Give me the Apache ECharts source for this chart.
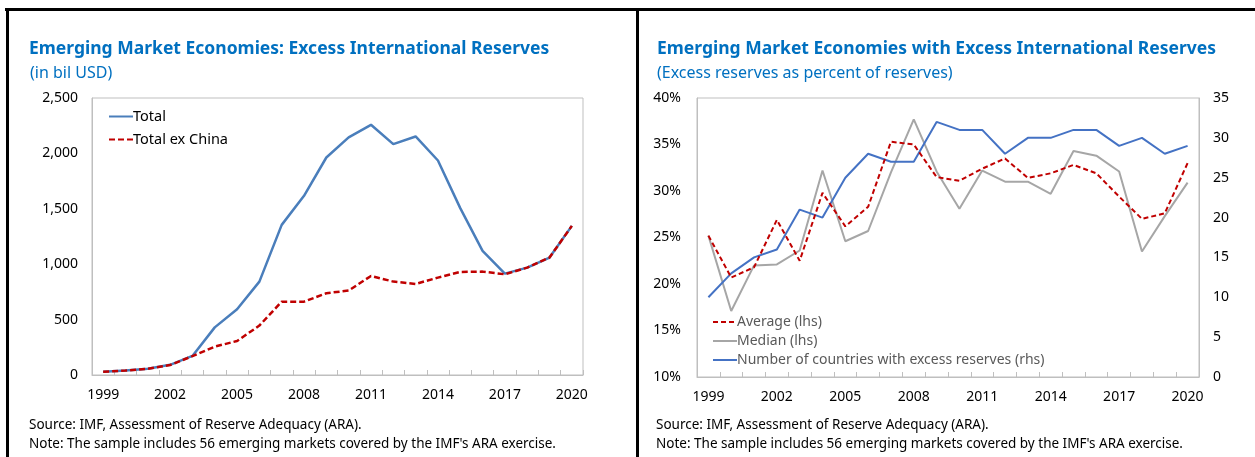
<!DOCTYPE html>
<html>
<head>
<meta charset="utf-8">
<title>Emerging Market Economies: Excess International Reserves</title>
<script src="https://cdn.jsdelivr.net/npm/echarts@6/dist/echarts.min.js"></script>
<style>
  html, body { margin: 0; padding: 0; background: #fff; }
  #chart { width: 1255px; height: 457px; }
</style>
</head>
<body>
<div id="chart"></div>
<script>
// data
const years = ["1999","2000","2001","2002","2003","2004","2005","2006","2007","2008","2009",
  "2010","2011","2012","2013","2014","2015","2016","2017","2018","2019","2020"];

// left panel, bil USD
const total = [30, 40, 57, 92, 172, 430, 593, 843, 1355, 1617, 1963,
  2144, 2258, 2084, 2153, 1936, 1506, 1120, 915, 969, 1060, 1346];
const totalExChina = [30, 40, 57, 90, 170, 256, 307, 446, 662, 662, 738,
  762, 894, 843, 822, 879, 930, 933, 909, 969, 1060, 1346];

// right panel, percent of reserves (lhs) and count (rhs)
const average = [25.2, 20.7, 21.8, 26.9, 22.5, 29.8, 26.2, 28.3, 35.3, 35.0, 31.5,
  31.1, 32.4, 33.5, 31.4, 31.9, 32.8, 31.9, 29.4, 27.0, 27.6, 33.0];
const median = [25.2, 17.1, 22.0, 22.1, 23.6, 32.2, 24.6, 25.7, 32.0, 37.7, 32.1,
  28.1, 32.2, 31.0, 31.0, 29.7, 34.3, 33.8, 32.1, 23.5, 27.3, 30.9];
const countries = [10, 13, 15, 16, 21, 20, 25, 28, 27, 27, 32,
  31, 31, 28, 30, 30, 31, 31, 29, 30, 28, 29];

const FONT = "Noto Sans";
const TITLE_BLUE = "#0070c0";
const FRAME = "#bfbfbf";

const chart = echarts.init(document.getElementById("chart"), null, { renderer: "canvas" });

const xAxisBase = (gridIndex) => ({
  type: "category",
  gridIndex: gridIndex,
  data: years,
  boundaryGap: true,
  axisLine: { lineStyle: { color: FRAME, width: 1 } },
  axisTick: { show: true, inside: true, interval: 0, length: 5, lineStyle: { color: FRAME } },
  axisLabel: { interval: 2, color: "#000", fontFamily: FONT, fontSize: 14, margin: 13 },
  splitLine: { show: false },
});

const yLabel = { color: "#000", fontFamily: FONT, fontSize: 14 };
const titleStyle = { color: TITLE_BLUE, fontFamily: FONT, fontSize: 17.5, fontWeight: "bold" };
const subStyle = { color: TITLE_BLUE, fontFamily: FONT, fontSize: 16, fontWeight: "normal" };
const noteStyle = { color: "#000", fontFamily: FONT, fontSize: 13.5, fontWeight: "normal" };

// legend icon is just the series line, no marker
const legendIconStyle = { color: "transparent", borderWidth: 0, opacity: 0 };

const option = {
  animation: false,
  backgroundColor: "#fff",
  textStyle: { fontFamily: FONT },
  title: [
    { text: "Emerging Market Economies: Excess International Reserves", left: 24, top: 35, textStyle: titleStyle },
    { text: "(in bil USD)", left: 25, top: 60, textStyle: subStyle },
    { text: "Emerging Market Economies with Excess International Reserves", left: 652, top: 35, textStyle: titleStyle },
    { text: "(Excess reserves as percent of reserves)", left: 652, top: 60, textStyle: subStyle },
    { text: "Source: IMF, Assessment of Reserve Adequacy (ARA).", left: 24, top: 413, textStyle: noteStyle },
    { text: "Note: The sample includes 56 emerging markets covered by the IMF's ARA exercise.", left: 24, top: 432, textStyle: noteStyle },
    { text: "Source: IMF, Assessment of Reserve Adequacy (ARA).", left: 651, top: 413, textStyle: noteStyle },
    { text: "Note: The sample includes 56 emerging markets covered by the IMF's ARA exercise.", left: 651, top: 432, textStyle: noteStyle },
  ],
  legend: [
    {
      orient: "vertical", left: 103, top: 104, itemWidth: 24, itemHeight: 10, itemGap: 8,
      itemStyle: legendIconStyle,
      textStyle: { color: "#000", fontFamily: FONT, fontSize: 14.5, padding: [0, 0, 0, -5] },
      data: ["Total", "Total ex China"],
    },
    {
      orient: "vertical", left: 707, top: 310, itemWidth: 24, itemHeight: 10, itemGap: 5,
      itemStyle: legendIconStyle,
      textStyle: { color: "#595959", fontFamily: FONT, fontSize: 14, padding: [0, 0, 0, -5] },
      data: ["Average (lhs)", "Median (lhs)", "Number of countries with excess reserves (rhs)"],
    },
  ],
  grid: [
    { left: 92, top: 98, width: 491, height: 277, show: true, borderColor: FRAME, borderWidth: 1 },
    { left: 697, top: 98, width: 502, height: 279, show: true, borderColor: FRAME, borderWidth: 1 },
  ],
  xAxis: [xAxisBase(0), xAxisBase(1)],
  yAxis: [
    {
      type: "value", gridIndex: 0, min: 0, max: 2500, interval: 500,
      axisLine: { show: true, lineStyle: { color: FRAME } },
      axisTick: { show: false },
      splitLine: { show: false },
      axisLabel: Object.assign({ margin: 14, formatter: (v) => v.toLocaleString("en-US") }, yLabel),
    },
    {
      type: "value", gridIndex: 1, min: 10, max: 40, interval: 5,
      axisLine: { show: true, lineStyle: { color: FRAME } },
      axisTick: { show: false },
      splitLine: { show: false },
      axisLabel: Object.assign({ margin: 16, formatter: "{value}%" }, yLabel),
    },
    {
      type: "value", gridIndex: 1, position: "right", min: 0, max: 35, interval: 5,
      axisLine: { show: true, lineStyle: { color: FRAME } },
      axisTick: { show: false },
      splitLine: { show: false },
      axisLabel: Object.assign({ margin: 14 }, yLabel),
    },
  ],
  series: [
    {
      name: "Total", type: "line", xAxisIndex: 0, yAxisIndex: 0, data: total,
      symbol: "none", z: 2,
      itemStyle: { color: "#4a7ebb" },
      lineStyle: { color: "#4a7ebb", width: 2.5 },
    },
    {
      name: "Total ex China", type: "line", xAxisIndex: 0, yAxisIndex: 0, data: totalExChina,
      symbol: "none", z: 3,
      itemStyle: { color: "#c00000" },
      lineStyle: { color: "#c00000", width: 2.5, type: [6, 3] },
    },
    {
      name: "Average (lhs)", type: "line", xAxisIndex: 1, yAxisIndex: 1, data: average,
      symbol: "none", z: 3,
      itemStyle: { color: "#c00000" },
      lineStyle: { color: "#c00000", width: 2, type: [5, 3] },
    },
    {
      name: "Median (lhs)", type: "line", xAxisIndex: 1, yAxisIndex: 1, data: median,
      symbol: "none", z: 2,
      itemStyle: { color: "#a6a6a6" },
      lineStyle: { color: "#a6a6a6", width: 2 },
    },
    {
      name: "Number of countries with excess reserves (rhs)", type: "line", xAxisIndex: 1, yAxisIndex: 2,
      data: countries, symbol: "none", z: 2,
      itemStyle: { color: "#4472c4" },
      lineStyle: { color: "#4472c4", width: 2 },
    },
  ],
  // black panel frame: top edge, left edge, divider
  graphic: [
    { type: "line", silent: true, shape: { x1: 5, y1: 9.5, x2: 1255, y2: 9.5 }, style: { stroke: "#000", lineWidth: 3 } },
    { type: "line", silent: true, shape: { x1: 7.5, y1: 8, x2: 7.5, y2: 457 }, style: { stroke: "#000", lineWidth: 3 } },
    { type: "line", silent: true, shape: { x1: 637.5, y1: 8, x2: 637.5, y2: 457 }, style: { stroke: "#000", lineWidth: 3 } },
  ],
};

chart.setOption(option);
</script>
</body>
</html>
